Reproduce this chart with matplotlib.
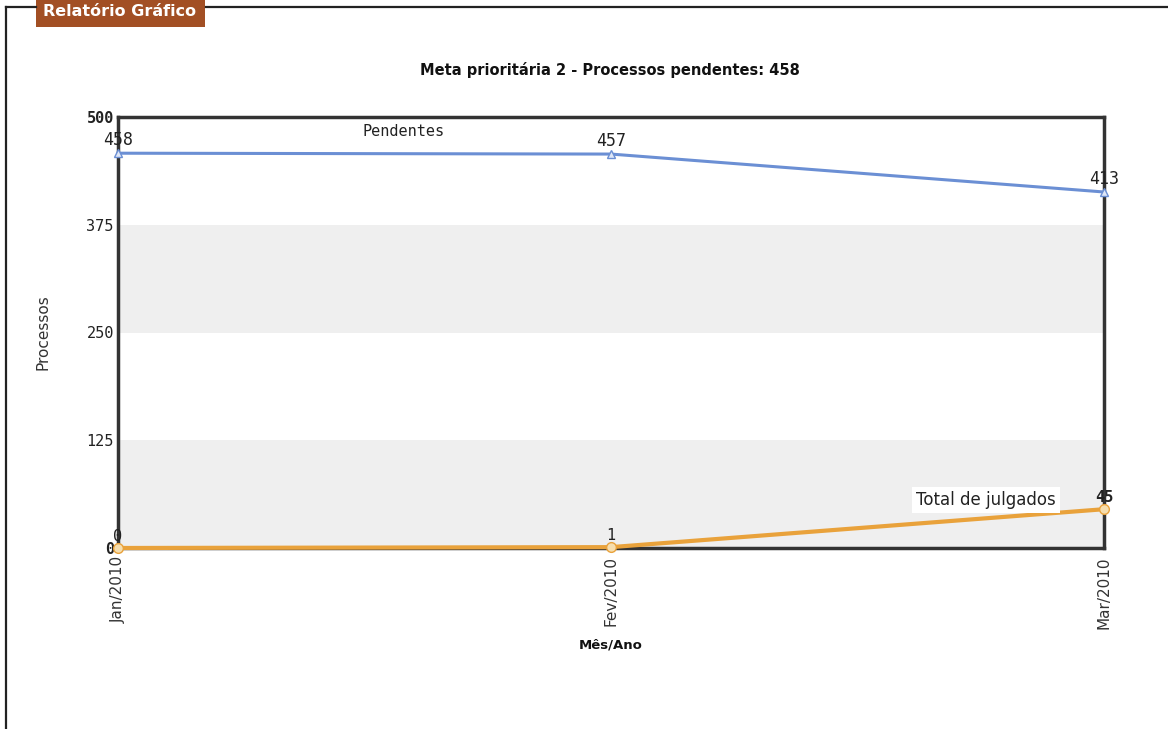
import matplotlib
matplotlib.use("Agg")
import matplotlib.pyplot as plt
from matplotlib.lines import Line2D
from matplotlib.patches import Rectangle

# Data
meses = ["Jan/2010", "Fev/2010", "Mar/2010"]
pendentes = [458, 457, 413]
total_julgados = [0, 1, 45]
y_ticks = [0, 125, 250, 375, 500]

titulo = "Meta prioritária 2 - Processos pendentes: 458"

W, H = 1168, 729
fig = plt.figure(figsize=(W / 100, H / 100), dpi=100)
fig.patch.set_facecolor("white")

# Outer fieldset frame with legend caption
fig.add_artist(Line2D([6 / W, 6 / W], [1 - 7 / H, 0], color="#222222", lw=1.6))
fig.add_artist(Line2D([6 / W, 36 / W], [1 - 7 / H, 1 - 7 / H], color="#222222", lw=1.6))
fig.add_artist(Line2D([206 / W, 1.0], [1 - 7 / H, 1 - 7 / H], color="#222222", lw=1.6))
fig.add_artist(Rectangle((36 / W, 1 - 27 / H), 169 / W, 27 / H, transform=fig.transFigure,
                         facecolor="#a24f24", edgecolor="none"))
fig.text(120 / W, 1 - 12 / H, "Relatório Gráfico", ha="center", va="center",
         color="white", fontsize=11.5, fontweight="bold", family="DejaVu Sans")

# Plot area
ax = fig.add_axes([118 / W, 1 - 548 / H, (1104 - 118) / W, (548 - 117) / H])
ax.set_facecolor("white")
x = list(range(len(meses)))
ax.set_xlim(0, len(meses) - 1)
ax.set_ylim(0, 500)

# Alternating background bands
for lo, hi in [(0, 125), (250, 375)]:
    ax.axhspan(lo, hi, color="#efefef", zorder=0, lw=0)

blue = "#6b8fd4"
orange = "#e9a23b"
ax.plot(x, pendentes, color=blue, lw=2.2, marker="^", ms=6, mfc="#dfe7f7",
        mec=blue, mew=1, zorder=3, clip_on=False)
ax.plot(x, total_julgados, color=orange, lw=3, marker="o", ms=7, mfc="#f6deae",
        mec=orange, mew=1, zorder=3, clip_on=False)

mono = "DejaVu Sans Mono"
for xi, v in zip(x, pendentes):
    ax.annotate(str(v), (xi, v), xytext=(0, 3), textcoords="offset points",
                ha="center", va="bottom", fontsize=12, family=mono, color="#222222")
for xi, v in zip(x, total_julgados):
    ax.annotate(str(v), (xi, v), xytext=(0, 3), textcoords="offset points",
                ha="center", va="bottom", fontsize=11,
                fontweight="bold" if v >= 10 else "normal",
                family=mono, color="#222222")

# Series labels
ax.text(0.58, 474, "Pendentes", ha="center", va="bottom", fontsize=11,
        family=mono, color="#222222")
ax.text(1.76, 56, "Total de julgados", ha="center", va="center", fontsize=12,
        family="DejaVu Sans", color="#222222",
        bbox=dict(facecolor="white", edgecolor="none", pad=3))

# Axes styling
for s in ax.spines.values():
    s.set_color("#333333")
    s.set_linewidth(2.5)
ax.set_yticks(y_ticks)
ax.set_yticklabels([str(t) for t in y_ticks], family=mono, fontsize=11, color="#222222")
for lbl, t in zip(ax.get_yticklabels(), y_ticks):
    if t in (0, 500):
        lbl.set_fontweight("bold")
ax.set_xticks(x)
ax.set_xticklabels(meses, rotation=90, fontsize=11, family="DejaVu Sans", color="#333333")
ax.tick_params(axis="y", length=0, pad=3)
ax.tick_params(axis="x", length=0, pad=6)

ax.set_ylabel("Processos", fontsize=11, family="DejaVu Sans", color="#333333", labelpad=26)
ax.set_xlabel("Mês/Ano", fontsize=9.5, fontweight="bold", family="DejaVu Sans",
              color="#111111", labelpad=7)
fig.text(610 / W, 1 - 70 / H, titulo, ha="center", va="center", fontsize=10.5,
         fontweight="bold", family="DejaVu Sans", color="#111111")

fig.savefig("out.png", dpi=100, facecolor="white")
